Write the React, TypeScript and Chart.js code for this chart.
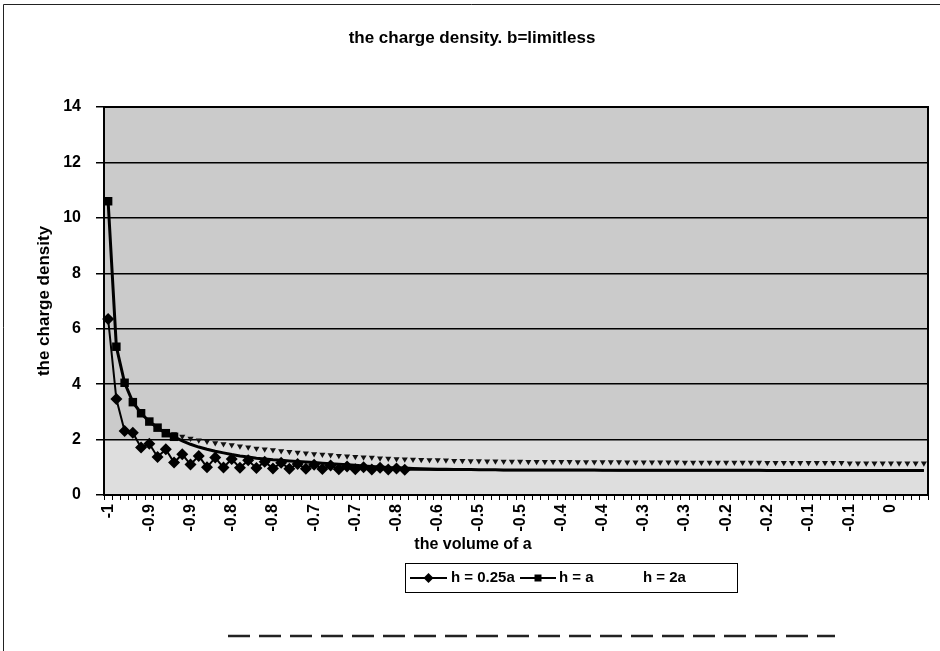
import React, { useEffect, useRef } from "react";
import { Chart, registerables } from "chart.js";

Chart.register(...registerables);

const chartTitle = "the charge density. b=limitless";
const yAxisTitle = "the charge density";
const xAxisTitle = "the volume of a";
const seriesNames = ["h = 0.25a", "h = a", "h = 2a"];

// one label every 5 categories (100 categories from -1 to 0)
const xTickLabels = [
  "-1", "-0.9", "-0.9", "-0.8", "-0.8", "-0.7", "-0.7", "-0.8", "-0.6", "-0.5",
  "-0.5", "-0.4", "-0.4", "-0.3", "-0.3", "-0.2", "-0.2", "-0.1", "-0.1", "0",
];
const labelEvery = 5;
const yMin = 0;
const yMax = 14;
const yStep = 2;

const h025a = [
  6.35, 3.46, 2.31, 2.25, 1.71, 1.85, 1.37, 1.65, 1.17, 1.47,
  1.10, 1.41, 1.00, 1.35, 0.99, 1.30, 0.98, 1.25, 0.97, 1.20,
  0.96, 1.16, 0.95, 1.12, 0.95, 1.09, 0.94, 1.06, 0.93, 1.03,
  0.93, 1.00, 0.92, 0.98, 0.92, 0.96, 0.91, 0.91, 0.91, 0.91,
  0.90, 0.90, 0.90, 0.90, 0.90, 0.90, 0.90, 0.90, 0.89, 0.89,
  0.89, 0.89, 0.89, 0.89, 0.89, 0.89, 0.89, 0.89, 0.89, 0.89,
  0.89, 0.89, 0.88, 0.88, 0.88, 0.88, 0.88, 0.88, 0.88, 0.88,
  0.88, 0.88, 0.88, 0.88, 0.88, 0.88, 0.88, 0.88, 0.88, 0.88,
  0.88, 0.88, 0.88, 0.88, 0.88, 0.88, 0.88, 0.88, 0.88, 0.88,
  0.88, 0.88, 0.88, 0.88, 0.88, 0.88, 0.88, 0.88, 0.88, 0.88,
];

const h1a = [
  10.6, 5.35, 4.05, 3.35, 2.95, 2.65, 2.43, 2.23, 2.10, 1.95,
  1.83, 1.73, 1.65, 1.58, 1.52, 1.46, 1.41, 1.37, 1.33, 1.30,
  1.27, 1.25, 1.23, 1.21, 1.19, 1.17, 1.15, 1.13, 1.11, 1.09,
  1.07, 1.05, 1.03, 1.01, 0.99, 0.98, 0.97, 0.96, 0.95, 0.94,
  0.93, 0.93, 0.92, 0.92, 0.92, 0.91, 0.91, 0.91, 0.90, 0.90,
  0.90, 0.90, 0.90, 0.90, 0.90, 0.90, 0.90, 0.90, 0.90, 0.90,
  0.89, 0.89, 0.89, 0.89, 0.89, 0.89, 0.89, 0.89, 0.89, 0.89,
  0.89, 0.89, 0.89, 0.89, 0.89, 0.89, 0.89, 0.89, 0.89, 0.89,
  0.88, 0.88, 0.88, 0.88, 0.88, 0.88, 0.88, 0.88, 0.88, 0.88,
  0.88, 0.88, 0.88, 0.88, 0.88, 0.88, 0.88, 0.88, 0.88, 0.88,
];

const h2a = [
  10.6, 5.35, 4.05, 3.35, 2.95, 2.65, 2.45, 2.30, 2.20, 2.11,
  2.04, 1.98, 1.93, 1.88, 1.84, 1.80, 1.76, 1.72, 1.68, 1.65,
  1.62, 1.59, 1.56, 1.53, 1.51, 1.48, 1.46, 1.44, 1.42, 1.40,
  1.38, 1.36, 1.35, 1.33, 1.32, 1.30, 1.29, 1.28, 1.27, 1.26,
  1.26, 1.25, 1.24, 1.24, 1.23, 1.23, 1.22, 1.22, 1.21, 1.21,
  1.21, 1.20, 1.20, 1.20, 1.20, 1.20, 1.20, 1.19, 1.19, 1.19,
  1.19, 1.19, 1.19, 1.18, 1.18, 1.18, 1.18, 1.18, 1.18, 1.18,
  1.17, 1.17, 1.17, 1.17, 1.17, 1.17, 1.17, 1.17, 1.17, 1.17,
  1.16, 1.16, 1.16, 1.16, 1.16, 1.16, 1.16, 1.16, 1.16, 1.16,
  1.15, 1.15, 1.15, 1.15, 1.15, 1.15, 1.15, 1.15, 1.15, 1.15,
];

const FONT = '"Liberation Sans", Arial, sans-serif';

const categories = h025a.map((_, i) =>
  i % labelEvery === 0 ? xTickLabels[i / labelEvery] : ""
);

const backgroundPlugin = {
  id: "bgPlugin",
  beforeDraw(chart: any) {
    const { ctx, chartArea, scales } = chart;
    ctx.save();
    ctx.fillStyle = "#ffffff";
    ctx.fillRect(0, 0, chart.width, chart.height);
    const { left, top, right, bottom } = chartArea;
    ctx.fillStyle = "#cbcbcb";
    ctx.fillRect(left, top, right - left, bottom - top);
    const y2 = scales.y.getPixelForValue(2);
    ctx.fillStyle = "#dedede";
    ctx.fillRect(left, y2, right - left, bottom - y2);
    ctx.restore();
  },
  beforeDatasetsDraw(chart: any) {
    const { ctx, chartArea } = chart;
    const { left, top, right, bottom } = chartArea;
    ctx.save();
    ctx.strokeStyle = "#000";
    ctx.lineWidth = 2;
    ctx.strokeRect(left, top, right - left, bottom - top);
    ctx.restore();
  },
  afterDraw(chart: any) {
    const { ctx } = chart;
    ctx.save();
    // outer frame
    ctx.strokeStyle = "#222";
    ctx.lineWidth = 1;
    ctx.beginPath();
    ctx.moveTo(3.5, 651);
    ctx.lineTo(3.5, 4.5);
    ctx.lineTo(940, 4.5);
    ctx.stroke();
    ctx.lineWidth = 2.5;
    ctx.setLineDash([22, 9]);
    ctx.beginPath();
    ctx.moveTo(228, 636);
    ctx.lineTo(835, 636);
    ctx.stroke();
    ctx.setLineDash([]);

    // title
    ctx.fillStyle = "#000";
    ctx.font = `bold 17px ${FONT}`;
    ctx.textAlign = "center";
    ctx.textBaseline = "middle";
    ctx.fillText(chartTitle, 472, 38);

    // x axis title
    ctx.font = `bold 16px ${FONT}`;
    ctx.fillText(xAxisTitle, 473, 545);

    // legend
    const lx = 405, ly = 563, lw = 332, lh = 29;
    ctx.lineWidth = 1;
    ctx.strokeStyle = "#000";
    ctx.strokeRect(lx + 0.5, ly + 0.5, lw, lh);
    const cy = ly + lh / 2 + 0.5;
    ctx.font = `bold 15px ${FONT}`;
    ctx.textAlign = "left";
    const drawSample = (x0: number, x1: number, style: string) => {
      ctx.lineWidth = 2;
      ctx.beginPath();
      ctx.moveTo(x0, cy);
      ctx.lineTo(x1, cy);
      ctx.stroke();
      const mx = (x0 + x1) / 2;
      ctx.beginPath();
      if (style === "diamond") {
        ctx.moveTo(mx, cy - 5);
        ctx.lineTo(mx + 5, cy);
        ctx.lineTo(mx, cy + 5);
        ctx.lineTo(mx - 5, cy);
      } else {
        ctx.rect(mx - 3.5, cy - 3.5, 7, 7);
      }
      ctx.closePath();
      ctx.fill();
    };
    drawSample(410, 447, "diamond");
    ctx.fillText(seriesNames[0], 451, cy);
    drawSample(520, 556, "square");
    ctx.fillText(seriesNames[1], 559, cy);
    ctx.fillText(seriesNames[2], 643, cy);
    ctx.restore();
  },
};

export default function App() {
  const ref = useRef<HTMLCanvasElement>(null);
  useEffect(() => {
    document.body.style.margin = "0";
    const chart = new Chart(ref.current as HTMLCanvasElement, {
      type: "line",
      data: {
        labels: categories,
        datasets: [
          {
            label: seriesNames[0],
            data: h025a,
            borderColor: "#000",
            backgroundColor: "#000",
            borderWidth: 2,
            pointStyle: "rectRot",
            pointRadius: (c: any) => (c.dataIndex < 37 ? 6 : 0),
            pointBorderWidth: 0,
            pointBackgroundColor: "#000",
            tension: 0,
          },
          {
            label: seriesNames[1],
            data: h1a,
            borderColor: "#000",
            backgroundColor: "#000",
            borderWidth: 3,
            pointStyle: "rect",
            pointRadius: (c: any) => (c.dataIndex < 9 ? 6 : 0),
            pointBorderWidth: 0,
            pointBackgroundColor: "#000",
            tension: 0,
          },
          {
            label: seriesNames[2],
            data: h2a,
            borderColor: "rgba(0,0,0,0)",
            backgroundColor: "#000",
            showLine: false,
            pointStyle: "triangle",
            pointRotation: 180,
            pointRadius: 3.5,
            pointBorderWidth: 0,
            pointBackgroundColor: "#111",
          },
        ],
      },
      options: {
        responsive: false,
        animation: false,
        events: [],
        layout: { padding: { top: 107, right: 12, bottom: 106, left: 0 } },
        plugins: {
          legend: { display: false },
          title: { display: false },
          tooltip: { enabled: false },
        },
        scales: {
          x: {
            type: "category",
            offset: true,
            grid: {
              display: true,
              drawOnChartArea: false,
              drawTicks: true,
              tickLength: 5,
              color: "#000",
              lineWidth: 1,
              offset: true,
            },
            border: { color: "#000", width: 2 },
            ticks: {
              autoSkip: false,
              maxRotation: 90,
              minRotation: 90,
              color: "#000",
              padding: 4,
              font: { family: FONT, size: 16, weight: "bold" },
            },
            title: { display: false },
            afterFit: (s: any) => {
              s.height = 50;
              s.paddingRight = 0;
              s.paddingLeft = 0;
            },
          },
          y: {
            min: yMin,
            max: yMax,
            ticks: {
              stepSize: yStep,
              color: "#000",
              padding: 15,
              font: { family: FONT, size: 16, weight: "bold" },
            },
            grid: {
              color: "#000",
              lineWidth: 1.5,
              tickLength: 8,
              drawTicks: true,
            },
            border: { color: "#000", width: 2 },
            title: {
              display: true,
              text: yAxisTitle,
              color: "#000",
              font: { family: FONT, size: 17, weight: "bold" },
              padding: { top: 34, bottom: 0 },
            },
            afterFit: (s: any) => {
              s.width = 104;
            },
          },
        },
      },
      plugins: [backgroundPlugin],
    } as any);
    return () => chart.destroy();
  }, []);
  return (
    <div style={{ width: 940, height: 651 }}>
      <canvas ref={ref} width={940} height={651} style={{ display: "block" }} />
    </div>
  );
}
